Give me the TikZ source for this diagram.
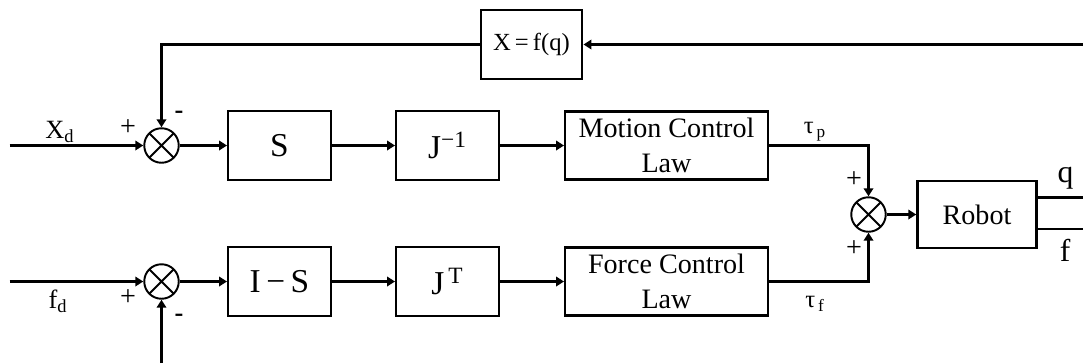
\documentclass[tikz,border=0pt]{standalone}
\usepackage{fontspec}
\setmainfont{Liberation Serif}
\usetikzlibrary{arrows.meta}
\newcommand{\blkfont}{\fontsize{16}{20}\selectfont}
\newcommand{\symfont}{\fontsize{19}{22}\selectfont}
\newcommand{\lblfont}{\fontsize{15}{17}\selectfont}

\begin{document}
\begin{tikzpicture}[
    block/.style={rectangle, draw, line width=1.4pt, minimum width=20.5mm,
                  minimum height=13.8mm, font=\blkfont, align=center, inner sep=2pt},
    symblock/.style={block, font=\symfont},
    lawblock/.style={block, minimum width=40.5mm, minimum height=13.6mm},
    mixer/.style={circle, draw, line width=1.1pt, minimum size=6.9mm, inner sep=0pt,
                  path picture={\draw[line width=1.1pt]
                    (path picture bounding box.north west) -- (path picture bounding box.south east)
                    (path picture bounding box.north east) -- (path picture bounding box.south west);}},
    wire/.style={line width=1.6pt, -{Triangle[length=1.6mm,width=1.9mm]}},
    plainwire/.style={line width=1.6pt},
    plus/.style={font=\fontsize{16}{18}\selectfont, inner sep=0pt},
    minus/.style={font=\fontsize{15}{17}\selectfont\bfseries, inner sep=0pt},
    lbl/.style={font=\lblfont, inner sep=0pt}
  ]
  \useasboundingbox (0,0) rectangle (21.66,7.26);
  % motion branch
  \node[mixer] (sumx) at (3.23,4.35) {};
  \node[symblock] (blks) at (5.59,4.35) {S};
  \node[symblock] (jinv) at (8.95,4.35) {J\textsuperscript{−1}};
  \node[lawblock] (motion) at (13.33,4.35) {Motion Control\\Law};
  \node[block, minimum width=20.3mm, font=\fontsize{14}{16}\selectfont] (fq) at (10.63,6.37) {X\,=\,f(q)};
  % force branch
  \node[mixer] (sumf) at (3.23,1.63) {};
  \node[symblock] (blkis) at (5.59,1.63) {I\,−\,S};
  \node[symblock] (jtr) at (8.95,1.63) {J\textsuperscript{\,T}};
  \node[lawblock] (force) at (13.33,1.63) {Force Control\\Law};
  % plant
  \node[mixer] (sumt) at (17.37,2.97) {};
  \node[block, minimum width=23.8mm, minimum height=13.5mm] (robot) at (19.54,2.97) {Robot};

  \coordinate (xin) at (0.19,4.35);
  \coordinate (fin) at (0.19,1.63);
  \coordinate (fbin) at (21.66,6.37);
  \coordinate (fbf) at (3.23,0);
  \coordinate (qend) at (21.66,3.31);
  \coordinate (fend) at (21.66,2.68);

  \draw[wire] (xin) -- (sumx);
  \draw[wire] (sumx) -- (blks);
  \draw[wire] (blks) -- (jinv);
  \draw[wire] (jinv) -- (motion);
  \draw[wire] (fin) -- (sumf);
  \draw[wire] (sumf) -- (blkis);
  \draw[wire] (blkis) -- (jtr);
  \draw[wire] (jtr) -- (force);
  \draw[wire] (motion.east) -| (sumt);
  \draw[wire] (force.east) -| (sumt);
  \draw[wire] (sumt) -- (robot);
  \draw[plainwire] (robot.east |- qend) -- (qend);
  \draw[plainwire] (robot.east |- fend) -- (fend);
  \draw[wire] (fbin) -- (fq);
  \draw[wire] (fq.west) -| (sumx);
  \draw[wire] (fbf) -- (sumf);

  % signs and signal names
  \node[lbl] (lxd) at (1.2,4.63) {X\textsubscript{d}};
  \node[plus] (px1) at (2.56,4.70) {+};
  \node[minus] (mx1) at (3.58,4.96) {-};
  \node[lbl] (lfd) at (1.16,1.23) {f\textsubscript{d}};
  \node[plus] (pf1) at (2.56,1.30) {+};
  \node[minus] (mf1) at (3.58,0.91) {-};
  \node[lbl, font=\fontsize{14}{16}\selectfont] (ltp) at (16.3,4.63) {τ\textsubscript{\,p}};
  \node[lbl, font=\fontsize{14}{16}\selectfont] (ltf) at (16.3,1.18) {τ\textsubscript{\,f}};
  \node[plus] (pt1) at (17.08,3.66) {+};
  \node[plus] (pt2) at (17.08,2.29) {+};
  \node[lbl, font=\fontsize{18}{20}\selectfont] (lq) at (21.31,3.69) {q};
  \node[lbl, font=\fontsize{18}{20}\selectfont] (lf) at (21.3,2.26) {f};
\end{tikzpicture}
\end{document}
